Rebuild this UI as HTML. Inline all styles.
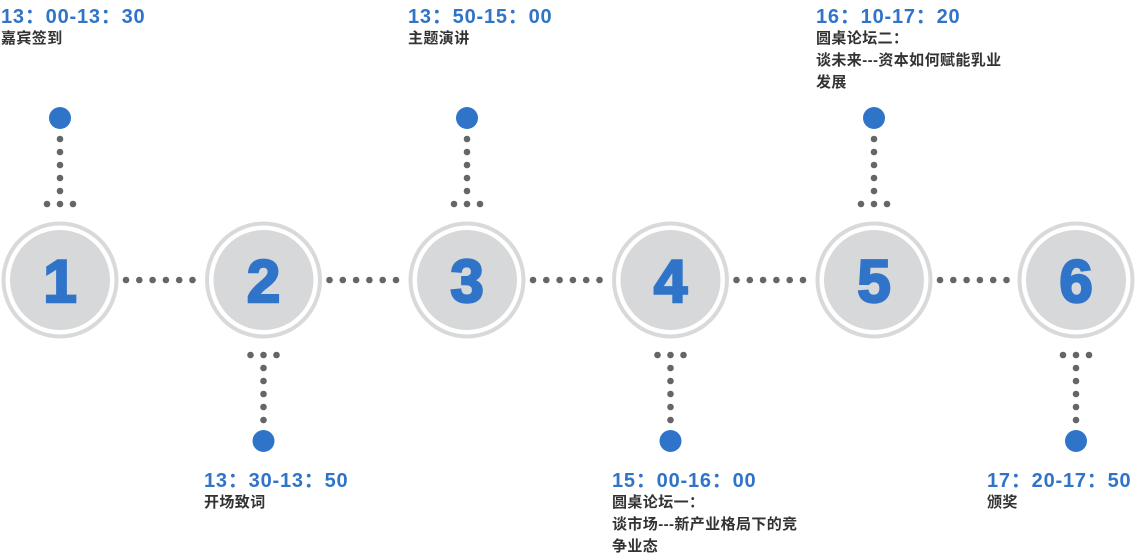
<!DOCTYPE html>
<html><head><meta charset="utf-8"><style>
body{margin:0;width:1136px;height:560px;background:#fff;position:relative;overflow:hidden;font-family:"Liberation Sans","Noto Sans CJK SC",sans-serif}
.t{position:absolute;white-space:nowrap}
.tm{font-size:20px;font-weight:bold;color:#2f74c8;line-height:24px;letter-spacing:0.8px}
.lb{font-size:15px;font-weight:bold;color:#333;line-height:22px;letter-spacing:0.4px}
svg{position:absolute;left:0;top:0}
</style></head><body>
<svg width="1136" height="560">
<g id="c"></g>
</svg>
<script>
var xs=[60,263.5,467,670.5,874,1076];
var s='';
xs.forEach(function(x,i){
 s+='<circle cx="'+x+'" cy="280" r="56.5" fill="none" stroke="#d9d9d9" stroke-width="4"/>';
 s+='<circle cx="'+x+'" cy="280" r="50" fill="#d7d8da"/>';
 s+='<text x="'+x+'" y="302" text-anchor="middle" font-family="Liberation Sans" font-weight="bold" font-size="60" fill="#2f74c8" stroke="#2f74c8" stroke-width="2.5">'+(i+1)+'</text>';
 var top=(i%2==0);
 if(top){
  s+='<circle cx="'+x+'" cy="118" r="11" fill="#2f74c8"/>';
  for(var k=0;k<5;k++) s+='<circle cx="'+x+'" cy="'+(139+k*13)+'" r="3.3" fill="#666"/>';
  [-13,0,13].forEach(function(d){s+='<circle cx="'+(x+d)+'" cy="204" r="3.3" fill="#666"/>';});
 } else {
  s+='<circle cx="'+x+'" cy="441" r="11" fill="#2f74c8"/>';
  for(var k=0;k<5;k++) s+='<circle cx="'+x+'" cy="'+(368+k*13)+'" r="3.3" fill="#666"/>';
  [-13,0,13].forEach(function(d){s+='<circle cx="'+(x+d)+'" cy="355" r="3.3" fill="#666"/>';});
 }
 if(i<5){for(var k=0;k<6;k++) s+='<circle cx="'+(x+66+k*13.3)+'" cy="280" r="3.3" fill="#666"/>';}
});
document.getElementById('c').innerHTML=s;
</script>
<div class="t tm" style="left:1px;top:5px">13：00-13：30</div>
<div class="t lb" style="left:1px;top:28px">嘉宾签到</div>
<div class="t tm" style="left:408px;top:5px">13：50-15：00</div>
<div class="t lb" style="left:408px;top:28px">主题演讲</div>
<div class="t tm" style="left:816px;top:5px">16：10-17：20</div>
<div class="t lb" style="left:816px;top:28px">圆桌论坛二：<br>谈未来---资本如何赋能乳业<br>发展</div>
<div class="t tm" style="left:204px;top:469px">13：30-13：50</div>
<div class="t lb" style="left:204px;top:492px">开场致词</div>
<div class="t tm" style="left:612px;top:469px">15：00-16：00</div>
<div class="t lb" style="left:612px;top:492px">圆桌论坛一：<br>谈市场---新产业格局下的竞<br>争业态</div>
<div class="t tm" style="left:987px;top:469px">17：20-17：50</div>
<div class="t lb" style="left:987px;top:492px">颁奖</div>
</body></html>
